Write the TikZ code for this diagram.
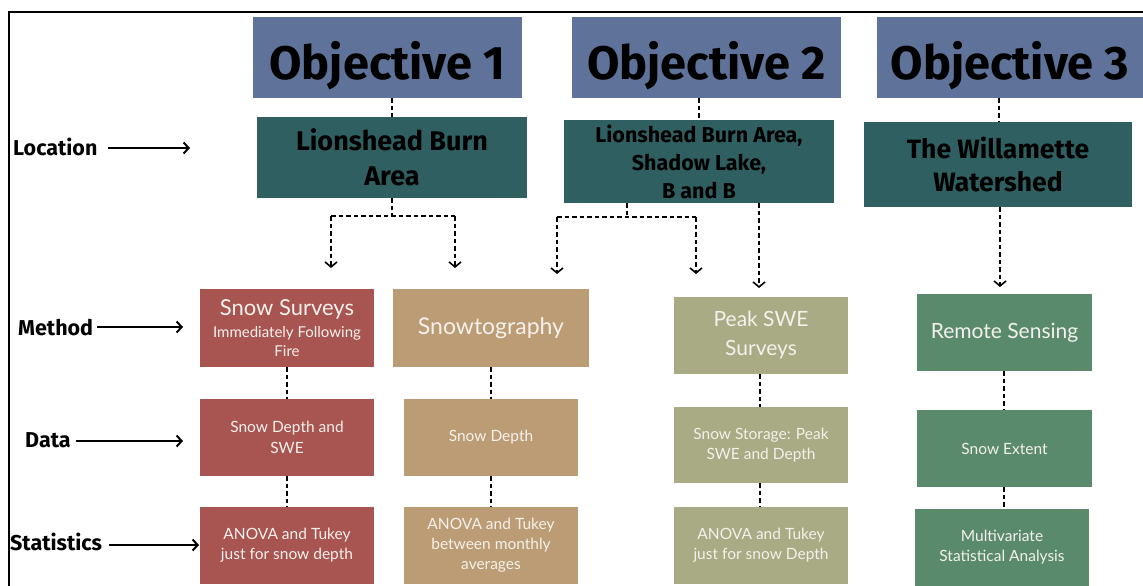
\documentclass[tikz,border=0pt]{standalone}
\usepackage{fontspec}
\setmainfont{Lato}
\newfontfamily\headfont{Fira Sans}
\usetikzlibrary{arrows.meta}
\definecolor{objblue}{HTML}{5F7299}
\definecolor{locteal}{HTML}{2F5F60}
\definecolor{redbox}{HTML}{A85451}
\definecolor{tanbox}{HTML}{BC9C74}
\definecolor{olivebox}{HTML}{A8AB83}
\definecolor{greenbox}{HTML}{5A8A6C}
\definecolor{boxtext}{HTML}{F4F1EC}
\tikzset{
  objbox/.style={fill=objblue, inner sep=0pt, text=black, font=\headfont\bfseries\fontsize{47}{52}\selectfont},
  locbox/.style={fill=locteal, inner sep=0pt, text=black, align=center},
  cbox/.style={inner sep=0pt, text=boxtext, align=center},
  dotline/.style={line width=2.8pt, dash pattern=on 4.5pt off 3pt},
  dotarrow/.style={dotline, -{Straight Barb[length=5pt,width=12pt,line width=1.6pt]}},
  lblarrow/.style={line width=2.4pt, -{Straight Barb[length=5pt,width=11pt,line width=2pt]}},
  lbl/.style={inner sep=0pt, anchor=west, font=\headfont\bfseries\fontsize{21.5}{24}\selectfont}
}
\begin{document}
\begin{tikzpicture}[x=1pt,y=-1pt]
\useasboundingbox (0,0) rectangle (1143,586);
\fill[white] (0,0) rectangle (1143,586);
\draw[line width=2pt] (9,586) -- (9,12) -- (1143,12);

% objectives
\node[objbox, minimum width=269pt, minimum height=81pt, text depth=0pt] (o1) at (387.5,57.5) {\raisebox{-5pt}{Objective 1}};
\node[objbox, minimum width=269pt, minimum height=81pt, text depth=0pt] (o2) at (706.5,57.5) {\raisebox{-5pt}{Objective 2}};
\node[objbox, minimum width=266pt, minimum height=81pt, text depth=0pt] (o3) at (1010,57.5) {\raisebox{-5pt}{Objective 3}};

% locations
\node[locbox, minimum width=270pt, minimum height=81pt, font=\headfont\bfseries\fontsize{27}{35}\selectfont] (l1) at (392,157.5) {Lionshead Burn\\Area};
\node[locbox, minimum width=270pt, minimum height=83pt, font=\headfont\bfseries\fontsize{21.5}{28}\selectfont] (l2) at (699,161.5) {Lionshead Burn Area,\\Shadow Lake,\\B and B};
\node[locbox, minimum width=268pt, minimum height=85pt, font=\headfont\bfseries\fontsize{26.5}{33}\selectfont] (l3) at (998,164.5) {The Willamette\\Watershed};

% methods
\node[cbox, fill=redbox, minimum width=174pt, minimum height=78pt] (m1) at (287,328) {{\fontsize{22}{26}\selectfont Snow Surveys}\\[7pt]{\fontsize{15}{19}\selectfont Immediately Following}\\[4pt]{\fontsize{15}{19}\selectfont Fire}};
\node[cbox, fill=tanbox, minimum width=196pt, minimum height=78pt, font=\fontsize{23}{28}\selectfont] (m2) at (491,328) {Snowtography};
\node[cbox, fill=olivebox, minimum width=174pt, minimum height=77pt, font=\fontsize{21}{29}\selectfont] (m3) at (761,335.5) {Peak SWE\\Surveys};
\node[cbox, fill=greenbox, minimum width=175pt, minimum height=77pt, font=\fontsize{21}{26}\selectfont] (m4) at (1004.5,332.5) {Remote Sensing};

% data
\node[cbox, fill=redbox, minimum width=174pt, minimum height=77pt, font=\fontsize{15.5}{21}\selectfont] (d1) at (287,437.5) {Snow Depth and\\SWE};
\node[cbox, fill=tanbox, minimum width=174pt, minimum height=77pt, font=\fontsize{15.5}{21}\selectfont] (d2) at (491,437.5) {Snow Depth};
\node[cbox, fill=olivebox, minimum width=174pt, minimum height=76pt, font=\fontsize{15.5}{20}\selectfont] (d3) at (761,445) {Snow Storage: Peak\\SWE and Depth};
\node[cbox, fill=greenbox, minimum width=175pt, minimum height=77pt, font=\fontsize{15.5}{20}\selectfont] (d4) at (1004.5,448.5) {Snow Extent};

% statistics
\node[cbox, fill=redbox, minimum width=174pt, minimum height=77pt, font=\fontsize{15.5}{20}\selectfont] (s1) at (287,545.5) {ANOVA and Tukey\\just for snow depth};
\node[cbox, fill=tanbox, minimum width=174pt, minimum height=77pt, font=\fontsize{15.5}{20}\selectfont] (s2) at (491,545.5) {ANOVA and Tukey\\between monthly\\averages};
\node[cbox, fill=olivebox, minimum width=174pt, minimum height=77pt, font=\fontsize{15.5}{20}\selectfont] (s3) at (761,545.5) {ANOVA and Tukey\\just for snow Depth};
\node[cbox, fill=greenbox, minimum width=174pt, minimum height=77pt, font=\fontsize{15.5}{20}\selectfont] (s4) at (1002,547.5) {Multivariate\\Statistical Analysis};

% row labels
\node[lbl] (tloc) at (13,147) {Location};
\node[lbl] (tmet) at (18,328) {Method};
\node[lbl] (tdat) at (25,440) {Data};
\node[lbl] (tsta) at (10,542) {Statistics};
\coordinate (aloc) at (190,148);
\coordinate (amet) at (183,327);
\coordinate (adat) at (183,441);
\coordinate (asta) at (199,545);
\draw[lblarrow] (108,148) -- (aloc);
\draw[lblarrow] ([xshift=4pt]tmet.east |- amet) -- (amet);
\draw[lblarrow] ([xshift=5pt]tdat.east |- adat) -- (adat);
\draw[lblarrow] ([xshift=7pt]tsta.east |- asta) -- (asta);

% objective to location
\draw[dotline] (o1.south -| l1.north) -- (l1.north);
\draw[dotline] (o2.south -| l2.north) -- (l2.north);
\draw[dotline] (999,0 |- o3.south) -- (999,0 |- l3.north);

% location 1 branches
\coordinate (b1) at (331,216);
\coordinate (b2) at (455,216);
\coordinate (e1) at (331,268);
\coordinate (e2) at (455,268);
\draw[dotline] (l1.south) -- (l1.south |- b1);
\draw[dotline] (b1) -- (b2);
\draw[dotarrow] (b1) -- (e1);
\draw[dotarrow] (b2) -- (e2);

% location 2 branches
\coordinate (c0) at (627,203);
\coordinate (c1) at (557,217);
\coordinate (c2) at (696,217);
\coordinate (f1) at (557,274);
\coordinate (f2) at (696,274);
\draw[dotline] (c0) -- (c0 |- c1);
\draw[dotline] (c1) -- (c2);
\draw[dotarrow] (c1) -- (f1);
\draw[dotarrow] (c2) -- (f2);
\draw[dotarrow] (759,0 |- l2.south) -- (759,288);

% location 3
\draw[dotarrow] (1000,0 |- l3.south) -- (1000,287);

% method to data to statistics
\foreach \a/\b in {m1/d1, d1/s1, m2/d2, d2/s2}{
  \draw[dotline] (\a.south) -- (\b.north);
}
\draw[dotline] (760,0 |- m3.south) -- (760,0 |- d3.north);
\draw[dotline] (760,0 |- d3.south) -- (760,0 |- s3.north);
\draw[dotline] (1004,0 |- m4.south) -- (1004,0 |- d4.north);
\draw[dotline] (1004,0 |- d4.south) -- (1004,0 |- s4.north);
\end{tikzpicture}
\end{document}
